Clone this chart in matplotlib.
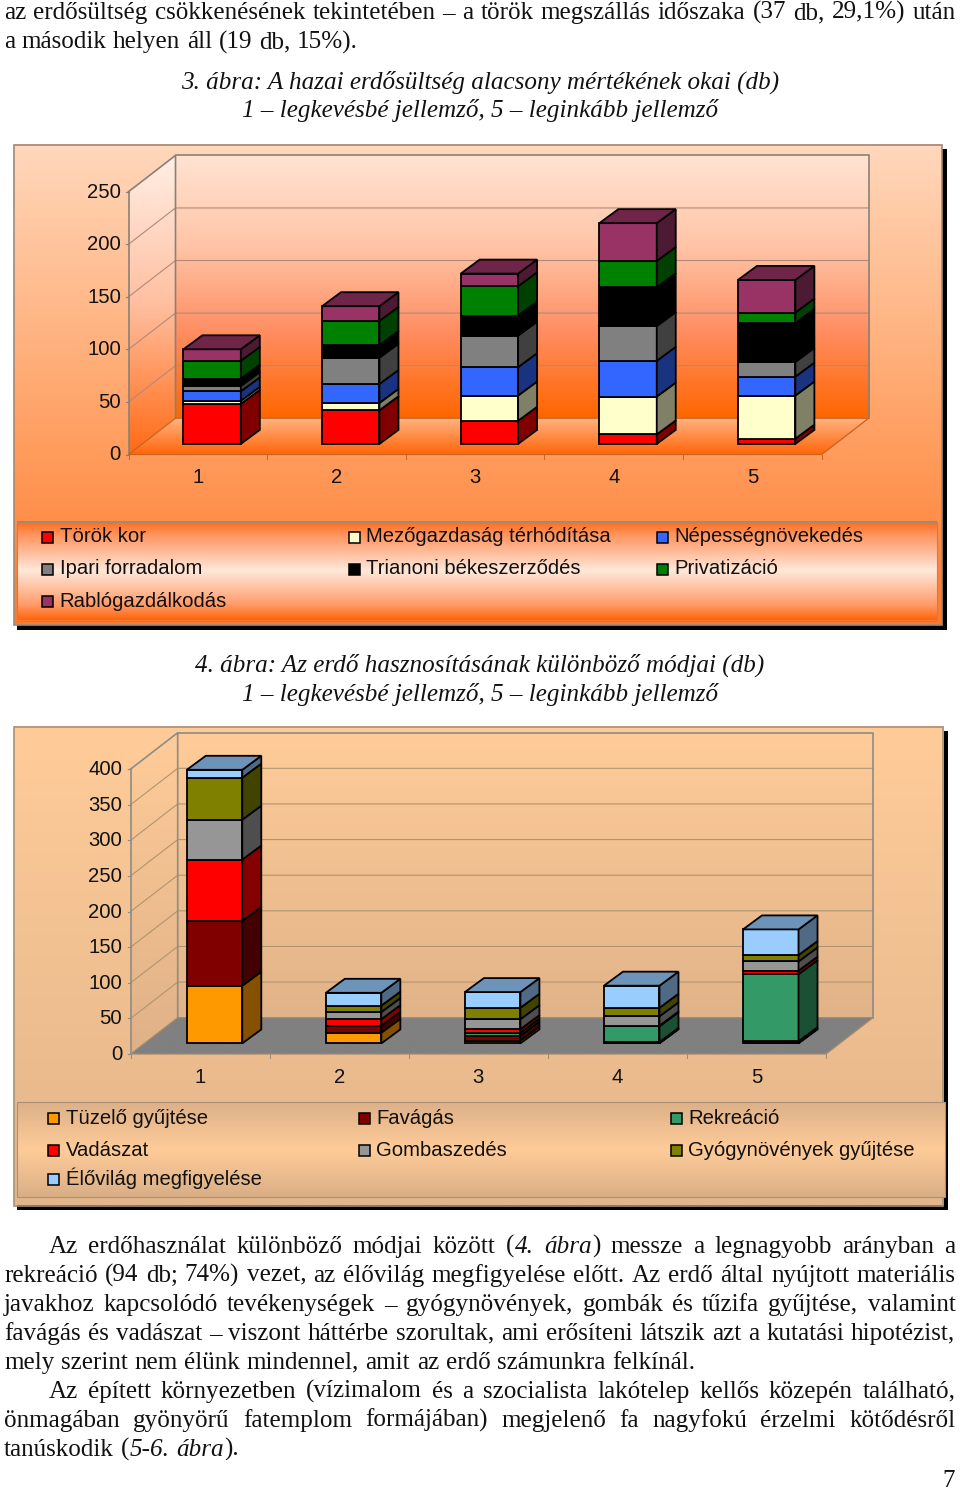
"""
Page with two 3D-look stacked bar charts.
"""

import matplotlib
matplotlib.use("Agg")
import matplotlib.pyplot as plt
from matplotlib.colors import LinearSegmentedColormap, to_rgb
from matplotlib.patches import Polygon, Rectangle
import numpy as np

W, H = 960, 1492
SERIF = "Liberation Serif"
SANS = "Liberation Sans"
SERIF_SIZE = 18.1
SANS_SIZE = 14.6

# ── Data ──────────────────────────────────────────────────────────────────────
CATEGORIES = ["1", "2", "3", "4", "5"]

LABELS_1 = ["Török kor", "Mezőgazdaság térhódítása", "Népességnövekedés",
            "Ipari forradalom", "Trianoni békeszerződés", "Privatizáció",
            "Rablógazdálkodás"]
TOROK = [38, 32, 22, 9, 5]
MEZO = [3, 7, 24, 36, 41]
NEPES = [9, 18, 27, 34, 18]
IPARI = [5, 25, 30, 33, 14]
TRIANON = [7, 12, 19, 37, 37]
PRIVAT = [17, 23, 28, 25, 10]
RABLO = [11, 14, 12, 36, 31]
TICKS_1 = [0, 50, 100, 150, 200, 250]

LABELS_2 = ["Tüzelő gyűjtése", "Favágás", "Rekreáció",
            "Vadászat", "Gombaszedés", "Gyógynövények gyűjtése",
            "Élővilág megfigyelése"]
TUZELO = [81, 15, 4, 1, 1]
FAVAGAS = [91, 10, 7, 1, 2]
REKREACIO = [0, 0, 4, 22, 94]
VADASZAT = [86, 9, 5, 1, 5]
GOMBA = [56, 10, 14, 13, 13]
GYOGY = [59, 9, 16, 12, 9]
ELOVILAG = [11, 18, 22, 31, 36]
TICKS_2 = [0, 50, 100, 150, 200, 250, 300, 350, 400]

COLORS_1 = ["#FF0000", "#FFFFCC", "#3366FF", "#808080", "#000000", "#008000", "#993366"]
COLORS_2 = ["#FF9900", "#800000", "#339966", "#FF0000", "#969696", "#808000", "#99CCFF"]

TOP_TEXT = ["az erdősültség csökkenésének tekintetében – a török megszállás időszaka (37 db, 29,1%) után",
            "a második helyen áll (19 db, 15%)."]
BODY_TEXT = [
    "Az erdőhasználat különböző módjai között (*4. ábra*) messze a legnagyobb arányban a",
    "rekreáció (94 db; 74%) vezet, az élővilág megfigyelése előtt. Az erdő által nyújtott materiális",
    "javakhoz kapcsolódó tevékenységek – gyógynövények, gombák és tűzifa gyűjtése, valamint",
    "favágás és vadászat – viszont háttérbe szorultak, ami erősíteni látszik azt a kutatási hipotézist,",
    "mely szerint nem élünk mindennel, amit az erdő számunkra felkínál.",
    "Az épített környezetben (vízimalom és a szocialista lakótelep kellős közepén található,",
    "önmagában gyönyörű fatemplom formájában) megjelenő fa nagyfokú érzelmi kötődésről",
    "tanúskodik (*5-6. ábra*).",
]

fig = plt.figure(figsize=(W / 100, H / 100), dpi=100, facecolor="white")
page = fig.add_axes([0, 0, 1, 1], zorder=0)
page.set_xlim(0, W)
page.set_ylim(H, 0)
page.axis("off")
renderer = fig.canvas.get_renderer()


def gradient(ax, extent, stops, clip=None, zorder=1):
    cmap = LinearSegmentedColormap.from_list("g", stops)
    arr = np.linspace(0, 1, 256).reshape(-1, 1)
    im = ax.imshow(arr, cmap=cmap, extent=extent, origin="upper", aspect="auto",
                   vmin=0, vmax=1, zorder=zorder, interpolation="bilinear")
    im.set_clip_box(fig.bbox)
    if clip is not None:
        poly = Polygon(clip, closed=True, fill=False, edgecolor="none",
                       transform=ax.transData, clip_on=False)
        ax.add_patch(poly)
        im.set_clip_path(poly)
    return im


def shade(color, k):
    return tuple(c * k for c in to_rgb(color))


def panel(x0, y0, x1, y1, lx1, ly0, ly1, bg, leg, edge):
    # black drop shadow, chart area, legend strip
    page.add_patch(Rectangle((x0 + 3.5, y0 + 4), x1 - x0 + 1.5, y1 - y0 + 0.5,
                             fc="black", ec="none", zorder=1))
    gradient(page, (x0, x1, y1, y0), bg, zorder=2)
    page.add_patch(Rectangle((x0, y0), x1 - x0, y1 - y0, fc="none", ec=edge, lw=1.2, zorder=3))
    gradient(page, (x0 + 3, lx1, ly1, ly0), leg, zorder=3)
    page.add_patch(Rectangle((x0 + 3, ly0), lx1 - x0 - 3, ly1 - ly0, fc="none", ec=edge, lw=0.8, zorder=4))


def legend(labels, colors, xs, ys, dx_text):
    for i, (lab, col) in enumerate(zip(labels, colors)):
        x, y = xs[i % 3], ys[i // 3]
        page.add_patch(Rectangle((x, y - 5.5), 11, 11, fc=col, ec="black", lw=1.1, zorder=6))
        page.text(x + dx_text, y + 5.5, lab, family=SANS, fontsize=SANS_SIZE, va="baseline", ha="left",
                  color="#111111", zorder=6)


def bar_chart(left, right, base, top, vmax, ticks, series, colors, label_y, label_x, bar_w,
              wall, side, floor, gridc, edgec, flooredge, side_k, top_k):
    # axes cover the front plane of the 3D box, data units are categories and values
    ax = fig.add_axes([left / W, 1 - base / H, (right - left) / W, (base - top) / H], zorder=2)
    ax.patch.set_alpha(0)
    ax.axis("off")
    n = len(CATEGORIES)
    ux, uy = n / (right - left), vmax / (base - top)
    ddx, ddy = 47 * ux, 36.3 * uy

    gradient(ax, (ddx, n + ddx, ddy, vmax + ddy), wall, zorder=1)
    gradient(ax, (0, ddx, 0, vmax + ddy), side,
             clip=[(0, 0), (ddx, ddy), (ddx, vmax + ddy), (0, vmax)], zorder=1)
    gradient(ax, (0, n + ddx, 0, ddy), floor,
             clip=[(0, 0), (ddx, ddy), (n + ddx, ddy), (n, 0)], zorder=1)

    for t in ticks[1:-1]:
        ax.plot([0, ddx, n + ddx], [t, t + ddy, t + ddy], color=gridc, lw=0.8, zorder=2, clip_on=False)
    # box edges
    ax.plot([0, ddx, ddx], [vmax, vmax + ddy, ddy], color=edgec, lw=1.2, zorder=2, clip_on=False)
    ax.plot([ddx, n + ddx, n + ddx], [vmax + ddy, vmax + ddy, ddy], color=edgec, lw=1.2, zorder=2, clip_on=False)
    ax.plot([0, 0], [0, vmax], color=edgec, lw=1.2, zorder=2, clip_on=False)
    ax.plot([0, ddx, n + ddx, n, 0], [0, ddy, ddy, 0, 0], color=flooredge, lw=0.9, zorder=2, clip_on=False)
    for i in range(n + 1):
        ax.plot([i, i], [0, -4 * uy], color=flooredge, lw=0.7, zorder=2, clip_on=False)
    for t in ticks:
        ax.plot([0, -3 * ux], [t, t], color=edgec, lw=0.8, zorder=2, clip_on=False)
        ax.text((label_x - left) * ux, t - 6 * uy, str(t), family=SANS, fontsize=SANS_SIZE, ha="right",
                va="baseline", color="#111111", zorder=7, clip_on=False)

    # bars, pushed back into the box, with oblique side and top faces
    off_x, off_y = 14.3 * ux, 10.6 * uy
    w = bar_w * ux
    bx, by = 19 * ux, 14 * uy
    xs = np.arange(n) + 0.5
    bottoms = np.zeros(n)
    for vals, col in zip(series, colors):
        vals = np.array(vals, dtype=float)
        ax.bar(xs + off_x, vals, w, bottom=bottoms + off_y, color=col, edgecolor="black",
               linewidth=1.3, zorder=5, clip_on=False)
        for i in range(n):
            if vals[i] <= 0:
                continue
            x1 = xs[i] + off_x + w / 2
            y0, y1 = bottoms[i] + off_y, bottoms[i] + vals[i] + off_y
            ax.add_patch(Polygon([(x1, y0), (x1 + bx, y0 + by), (x1 + bx, y1 + by), (x1, y1)],
                                 closed=True, fc=shade(col, side_k), ec="black", lw=1.3,
                                 zorder=5, clip_on=False))
        bottoms += vals
    for i in range(n):
        x0 = xs[i] + off_x - w / 2
        x1 = x0 + w
        y = bottoms[i] + off_y
        ax.add_patch(Polygon([(x0, y), (x0 + bx, y + by), (x1 + bx, y + by), (x1, y)],
                             closed=True, fc=shade(colors[-1], top_k), ec="black", lw=1.3,
                             zorder=6, clip_on=False))
        ax.text(xs[i], (base - label_y) * uy, CATEGORIES[i], family=SANS, fontsize=SANS_SIZE,
                ha="center", va="baseline", color="#111111", zorder=7, clip_on=False)
    ax.set_xlim(0, n)
    ax.set_ylim(0, vmax)


def runs_of(word, italic):
    out = []
    parts = word.split("*")
    for i, p in enumerate(parts):
        if i > 0:
            italic = not italic
        if p:
            out.append((p, italic))
    return out, italic


def text_w(s, italic):
    t = page.text(0, 0, s, family=SERIF, fontsize=SERIF_SIZE, style="italic" if italic else "normal")
    w = t.get_window_extent(renderer).width
    t.remove()
    return w


def line(s, x0, x1, y, justify=True):
    words, italic = [], False
    for w in s.split(" "):
        r, italic = runs_of(w, italic)
        words.append(r)
    widths = [sum(text_w(p, it) + 0.6 for p, it in r) for r in words]
    gap = 6.0
    if justify and len(words) > 1:
        gap = (x1 - x0 - sum(widths)) / (len(words) - 1)
    x = x0
    for r, wd in zip(words, widths):
        xx = x
        for p, it in r:
            page.text(xx, y, p, family=SERIF, fontsize=SERIF_SIZE, va="baseline", ha="left",
                      style="italic" if it else "normal", color="#111111", zorder=6)
            xx += text_w(p, it) + 0.6
        x += wd + gap


# ── Text ──────────────────────────────────────────────────────────────────────
line(TOP_TEXT[0], 4, 956, 19)
line(TOP_TEXT[1], 4, 956, 48.3, justify=False)
for s, y in [("3. ábra: A hazai erdősültség alacsony mértékének okai (db)", 88.5),
             ("1 – legkevésbé jellemző, 5 – leginkább jellemző", 117.5),
             ("4. ábra: Az erdő hasznosításának különböző módjai (db)", 671.7),
             ("1 – legkevésbé jellemző, 5 – leginkább jellemző", 701)]:
    page.text(480, y, s, family=SERIF, style="italic", fontsize=SERIF_SIZE, ha="center", va="baseline",
              color="#111111", zorder=6)

indent = {0: 49, 5: 49}
loose = {4, 7}
for i, s in enumerate(BODY_TEXT):
    line(s, indent.get(i, 4), 956, 1252.7 + 29.05 * i, justify=i not in loose)
page.text(955, 1487, "7", family=SERIF, fontsize=SERIF_SIZE, ha="right", va="baseline", color="#111111")

# ── Chart 3 ───────────────────────────────────────────────────────────────────
panel(13.5, 144.5, 941.5, 625, 936.5, 521.5, 620.5,
      [(0, "#FFD8BC"), (0.45, "#FFAE78"), (1, "#FF7A2C")],
      [(0, "#FF6A14"), (0.12, "#FF8F58"), (0.5, "#FFE8DA"), (0.85, "#FF9A68"), (1, "#FF6408")],
      "#A08A78")
bar_chart(128.5, 821.7, 454.5, 191.7, 250, TICKS_1,
          [TOROK, MEZO, NEPES, IPARI, TRIANON, PRIVAT, RABLO], COLORS_1, 483.3, 121, 57.4,
          [(0, "#FFE3D2"), (0.35, "#FFC4A6"), (0.68, "#FF8C60"), (1, "#FF6600")],
          [(0, "#FFEFE6"), (0.5, "#FFBFA0"), (1, "#FF6A14")],
          [(0, "#FFB585"), (1, "#FF660A")],
          "#B08A78", "#8A8078", "#C8641E", 0.5, 0.72)
legend(LABELS_1, COLORS_1, [42, 349, 657], [537, 569, 601.5], 17.5)

# ── Chart 4 ───────────────────────────────────────────────────────────────────
panel(13.5, 727, 943, 1205.5, 945, 1102, 1197,
      [(0, "#FFCC99"), (1, "#E3B58A")],
      [(0, "#DDB088"), (0.5, "#FFCC99"), (1, "#D9AE86")],
      "#A8917A")
bar_chart(130.7, 826, 1054, 769, 400, TICKS_2,
          [TUZELO, FAVAGAS, REKREACIO, VADASZAT, GOMBA, GYOGY, ELOVILAG], COLORS_2, 1082.7, 122, 55.5,
          [(0, "#FFCC99"), (1, "#E1B388")],
          [(0, "#FFCC99"), (1, "#DFB187")],
          [(0, "#808080"), (1, "#808080")],
          "#B0946F", "#8C8C88", "#A08A70", 0.52, 0.72)
legend(LABELS_2, COLORS_2, [48, 358.5, 670.5], [1118, 1150, 1179.5], 17.5)

fig.savefig("out.png", dpi=100, facecolor="white")
